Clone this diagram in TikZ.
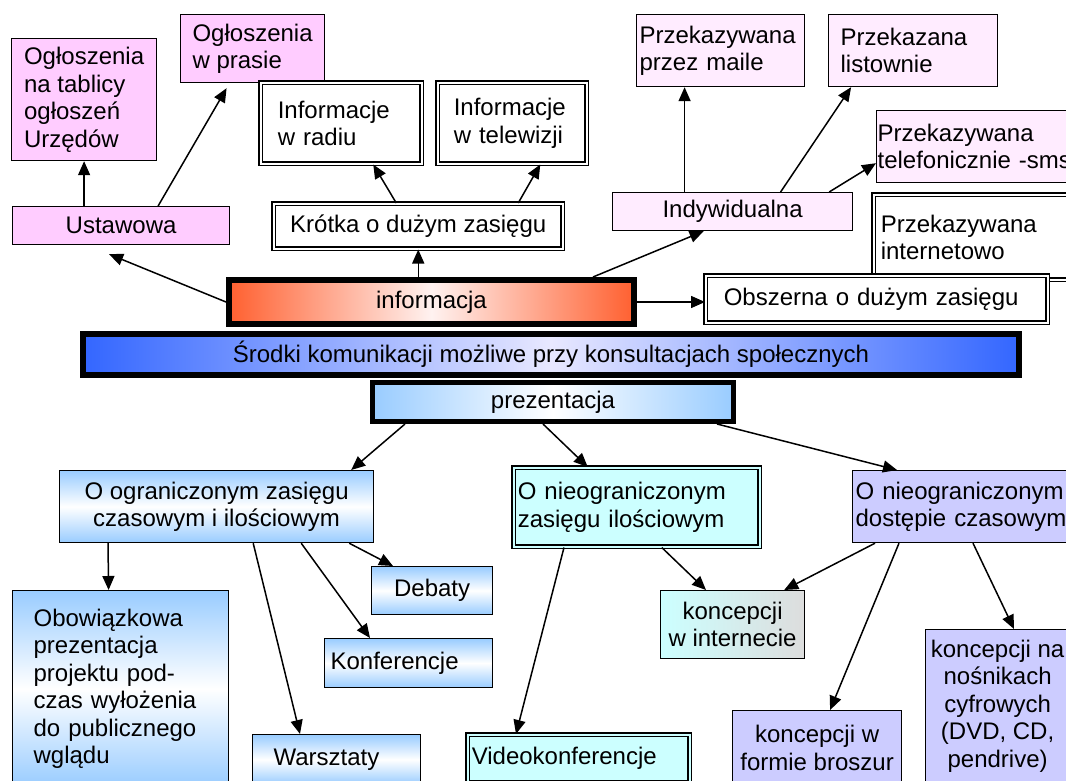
\documentclass[tikz,border=0pt]{standalone}
\usepackage{fontspec}
\setmainfont{Liberation Sans}
\usetikzlibrary{arrows.meta}

\definecolor{roz}{HTML}{FFCCFF}
\definecolor{jasnyroz}{HTML}{FFECFF}
\definecolor{pomar}{HTML}{FF6030}
\definecolor{pomjasny}{HTML}{FFF2F0}
\definecolor{nieb}{HTML}{3366FF}
\definecolor{niebjasny}{HTML}{E8E8FF}
\definecolor{blekit}{HTML}{99CCFF}
\definecolor{cyjan}{HTML}{CCFFFF}
\definecolor{fiolet}{HTML}{CCCCFF}
\definecolor{szary}{HTML}{DDDDDD}

\begin{document}
\begin{tikzpicture}[x=1pt,y=-1pt,
box/.style={draw,line width=1.2pt,anchor=north west,inner ysep=0pt,
  font=\fontsize{24}{27.5}\selectfont},
pbox/.style={box,fill=roz},
jbox/.style={box,fill=jasnyroz},
fbox/.style={box,fill=fiolet},
dbox/.style={box,fill=white,line width=1.5pt,double=white,double distance=2pt},
gbox/.style={box,top color=blekit,bottom color=blekit,middle color=white},
bar/.style={box,line width=6pt},
arr/.style={-{Triangle[length=14pt,width=12pt]},line width=1.5pt}
]
\useasboundingbox (0,0) rectangle (1066,781);
\clip (0,0) rectangle (1066,781);

% The informacja branch
\node[bar,left color=pomar,right color=pomar,middle color=pomjasny,
  minimum width=405pt,minimum height=44pt] (informacja) at (226,277) {informacja};
\node[pbox,minimum width=145pt,minimum height=122pt,align=left] (tablica) at (11,38)
  {Ogłoszenia\\na tablicy\\ogłoszeń\\Urzędów};
\node[pbox,minimum width=144pt,minimum height=68pt,align=left] (prasa) at (180,14)
  {Ogłoszenia\\w prasie};
\node[pbox,minimum width=217pt,minimum height=38pt] (ustawowa) at (12,206) {Ustawowa};
\node[dbox,text width=127pt,inner xsep=17pt,minimum height=81pt,align=left] (radio) at (260,82)
  {Informacje\\w radiu};
\node[dbox,text width=117pt,inner xsep=16pt,minimum height=81pt,align=left] (tv) at (437,82)
  {Informacje\\w telewizji};
\node[dbox,minimum width=289pt,minimum height=45pt] (krotka) at (273,203) {Krótka o dużym zasięgu};
\node[jbox,text width=162pt,inner xsep=3pt,minimum height=72pt,align=left] (maile) at (636,14)
  {Przekazywana\\przez maile};
\node[jbox,text width=145pt,inner xsep=12pt,minimum height=72pt,align=left] (listownie) at (828,14)
  {Przekazana\\listownie};
\node[jbox,text width=212pt,inner xsep=1pt,minimum height=72pt,align=left] (telefon) at (876,110)
  {Przekazywana\\telefonicznie -sms};
\node[jbox,minimum width=240pt,minimum height=38pt] (indyw) at (612,192) {Indywidualna};
\node[dbox,text width=200pt,inner xsep=7pt,minimum height=85pt,align=left] (internet) at (873,194)
  {Przekazywana\\internetowo};
\node[dbox,text width=306pt,inner xsep=18pt,minimum height=47pt,align=left] (obszerna) at (705,275)
  {Obszerna o dużym zasięgu};

% The title bar
\node[bar,left color=nieb,right color=nieb,middle color=niebjasny,
  minimum width=936pt,minimum height=41pt] (srodki) at (80,331)
  {Środki komunikacji możliwe przy konsultacjach społecznych};

% The prezentacja branch
\node[bar,line width=5pt,left color=blekit,right color=blekit,middle color=white,
  minimum width=361pt,minimum height=39pt] (prez) at (370,380) {prezentacja};
\node[gbox,minimum width=314pt,minimum height=72pt,align=center] (ogr) at (59,470)
  {O ograniczonym zasięgu\\czasowym i ilościowym};
\node[dbox,fill=cyjan,double=cyjan,text width=238pt,inner xsep=4pt,minimum height=79pt,align=left]
  (ilosc) at (513,467) {O nieograniczonym\\zasięgu ilościowym};
\node[fbox,text width=222pt,inner xsep=3pt,minimum height=72pt,align=left] (dostep) at (852,470)
  {O nieograniczonym\\dostępie czasowym};
\node[gbox,text width=174pt,inner xsep=21pt,minimum height=196pt,align=left] (obow) at (12,590)
  {Obowiązkowa\\prezentacja\\projektu pod-\\czas wyłożenia\\do publicznego\\wglądu};
\node[gbox,minimum width=121pt,minimum height=48pt] (debaty) at (371,566) {Debaty};
\node[gbox,text width=156pt,inner xsep=6pt,minimum height=49pt,align=left] (konf) at (324,638)
  {Konferencje};
\node[gbox,text width=126pt,inner xsep=21pt,minimum height=50pt,align=left] (warsz) at (252,734)
  {Warsztaty};
\node[dbox,fill=cyjan,double=cyjan,text width=214pt,inner xsep=4pt,minimum height=48pt,align=left]
  (video) at (467,734) {Videokonferencje};
\node[box,left color=cyjan,right color=szary,minimum width=144pt,minimum height=68pt,align=center]
  (koncint) at (660,590) {koncepcji\\w internecie};
\node[fbox,minimum width=169pt,minimum height=75pt,align=center] (broszur) at (732,710)
  {koncepcji w\\formie broszur};
\node[fbox,minimum width=144pt,minimum height=153pt,align=center] (nosniki) at (925,629)
  {koncepcji na\\nośnikach\\cyfrowych\\(DVD, CD,\\pendrive)};

% Arrows up
\draw[arr] (informacja.west) -- ([xshift=-12pt,yshift=-9pt]ustawowa.south);
\draw[arr] (ustawowa.north -| tablica.south) -- (tablica.south);
\draw[arr] ([xshift=37pt]ustawowa.north) -- ([xshift=-26pt,yshift=-5pt]prasa.south);
\draw[arr] (informacja.north -| krotka.south) -- (krotka.south);
\draw[arr] ([xshift=-22pt]krotka.north) -- ([xshift=32pt]radio.south);
\draw[arr] ([xshift=100pt]krotka.north) -- ([xshift=28pt]tv.south);
\draw[arr] ([xshift=-44pt]informacja.north east) -- ([xshift=-29pt]indyw.south);
\draw[arr] ([xshift=-48pt]indyw.north) -- ([xshift=-36pt]maile.south);
\draw[arr] ([xshift=48pt]indyw.north) -- ([xshift=-62pt]listownie.south);
\draw[arr] ([xshift=-24pt]indyw.north east) -- ([yshift=20pt]telefon.south west);
\draw[arr] (informacja.east) -- (informacja.east -| obszerna.west);

% Arrows down
\draw[arr] ([xshift=35pt]prez.south west) -- ([xshift=-23pt]ogr.north east);
\draw[arr] ([xshift=-10pt]prez.south) -- ([xshift=-49pt]ilosc.north);
\draw[arr] ([xshift=-19pt]prez.south east) -- ([xshift=45pt]dostep.north west);
\draw[arr] ([xshift=49pt]ogr.south west) -- ([xshift=-12pt]obow.north);
\draw[arr] ([xshift=-25pt]ogr.south east) -- ([xshift=22pt]debaty.north west);
\draw[arr] ([xshift=-73pt]ogr.south east) -- ([xshift=46pt]konf.north west);
\draw[arr] ([xshift=-121pt]ogr.south east) -- ([xshift=48pt]warsz.north west);
\draw[arr] ([xshift=51pt]ilosc.south west) -- ([xshift=49pt]video.north west);
\draw[arr] ([xshift=25pt]ilosc.south) -- ([xshift=46pt]koncint.north west);
\draw[arr] ([xshift=23pt]dostep.south west) -- ([xshift=-21pt]koncint.north east);
\draw[arr] ([xshift=47pt]dostep.south west) -- ([xshift=13pt]broszur.north);
\draw[arr] ([xshift=121pt]dostep.south west) -- ([xshift=89pt]nosniki.north west);
\end{tikzpicture}
\end{document}
